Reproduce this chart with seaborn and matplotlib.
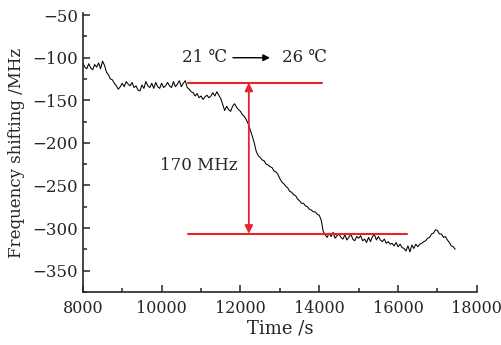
import numpy as np
import pandas as pd
import seaborn as sns
import matplotlib.pyplot as plt

# time axis, 50 s step
time_s = list(range(8000, 17500, 50))
shift_mhz = [
    -106, -111, -113, -107, -112, -114, -108, -111, -106, -113,
    -104, -109, -117, -120, -125, -126, -130, -133, -137, -134,
    -130, -134, -128, -131, -133, -129, -135, -133, -138, -139,
    -132, -136, -128, -133, -135, -130, -136, -129, -134, -136,
    -130, -135, -133, -129, -133, -135, -128, -134, -131, -127,
    -134, -130, -127, -135, -137, -140, -141, -145, -142, -147,
    -145, -149, -146, -144, -147, -145, -141, -145, -140, -144,
    -148, -155, -162, -157, -161, -163, -157, -154, -158, -161,
    -163, -167, -169, -173, -178, -185, -192, -200, -210, -215,
    -217, -220, -221, -225, -226, -228, -229, -233, -234, -237,
    -242, -246, -248, -251, -253, -257, -258, -261, -262, -266,
    -268, -271, -271, -274, -275, -278, -279, -281, -281, -284,
    -285, -291, -304, -308, -311, -306, -310, -305, -312, -309,
    -307, -311, -313, -308, -314, -311, -307, -313, -315, -310,
    -312, -309, -315, -313, -317, -311, -316, -310, -308, -314,
    -310, -314, -316, -313, -318, -316, -319, -318, -321, -317,
    -322, -319, -323, -324, -327, -321, -328, -320, -324, -319,
    -322, -319, -318, -316, -315, -312, -311, -307, -306, -302,
    -303, -307, -307, -311, -310, -314, -317, -321, -322, -325,
]

# annotation levels
level_top = -129.3
level_bottom = -306.7
top_line_x = [10665, 14066]
bottom_line_x = [10665, 16223]
arrow_x = 12213

df = pd.DataFrame({"Time /s": time_s, "shift": shift_mhz})

sns.set_style("ticks")
plt.rcParams["font.family"] = ["DejaVu Serif", "DejaVu Sans"]

fig = plt.figure(figsize=(5.02, 3.45), dpi=100)
ax = fig.add_axes([0.165, 0.154, 0.785, 0.807])

sns.lineplot(data=df, x="Time /s", y="shift", ax=ax, color="black", linewidth=0.75)

red = "#e8232b"
ax.plot(top_line_x, [level_top, level_top], color=red, lw=1.5)
ax.plot(bottom_line_x, [level_bottom, level_bottom], color=red, lw=1.5)
ax.annotate("", xy=(arrow_x, level_top), xytext=(arrow_x, level_bottom),
            arrowprops=dict(arrowstyle="<|-|>", color=red, lw=1.3,
                            mutation_scale=12, shrinkA=0, shrinkB=0))

ax.text(10510, -100, "21 \u2103", fontsize=12, va="center", ha="left")
ax.annotate("", xy=(12750, -100), xytext=(11810, -100),
            arrowprops=dict(arrowstyle="-|>", color="black", lw=1.0,
                            mutation_scale=10, shrinkA=0, shrinkB=0))
ax.text(13050, -100, "26 \u2103", fontsize=12, va="center", ha="left")
ax.text(9950, -226, "170 MHz", fontsize=12, va="center", ha="left")

ax.set_xlim(8000, 18000)
ax.set_ylim(-373, -48)
ax.set_xticks(range(8000, 18001, 2000))
ax.set_xticks(range(9000, 18000, 2000), minor=True)
ax.set_yticks(range(-350, -49, 50))
ax.set_yticks(range(-375, -49, 50), minor=True)
ax.tick_params(which="major", direction="in", length=5, width=1.1, labelsize=12)
ax.tick_params(axis="x", which="major", pad=6, labelsize=11.5)
ax.tick_params(which="minor", direction="in", length=3, width=1.1)
sns.despine(ax=ax)
for s in ["left", "bottom"]:
    ax.spines[s].set_linewidth(1.2)

ax.set_xlabel("Time /s", fontsize=13, labelpad=2)
ax.set_ylabel("Frequency shifting /MHz", fontsize=12, labelpad=5)

fig.savefig("out.png", dpi=100)
